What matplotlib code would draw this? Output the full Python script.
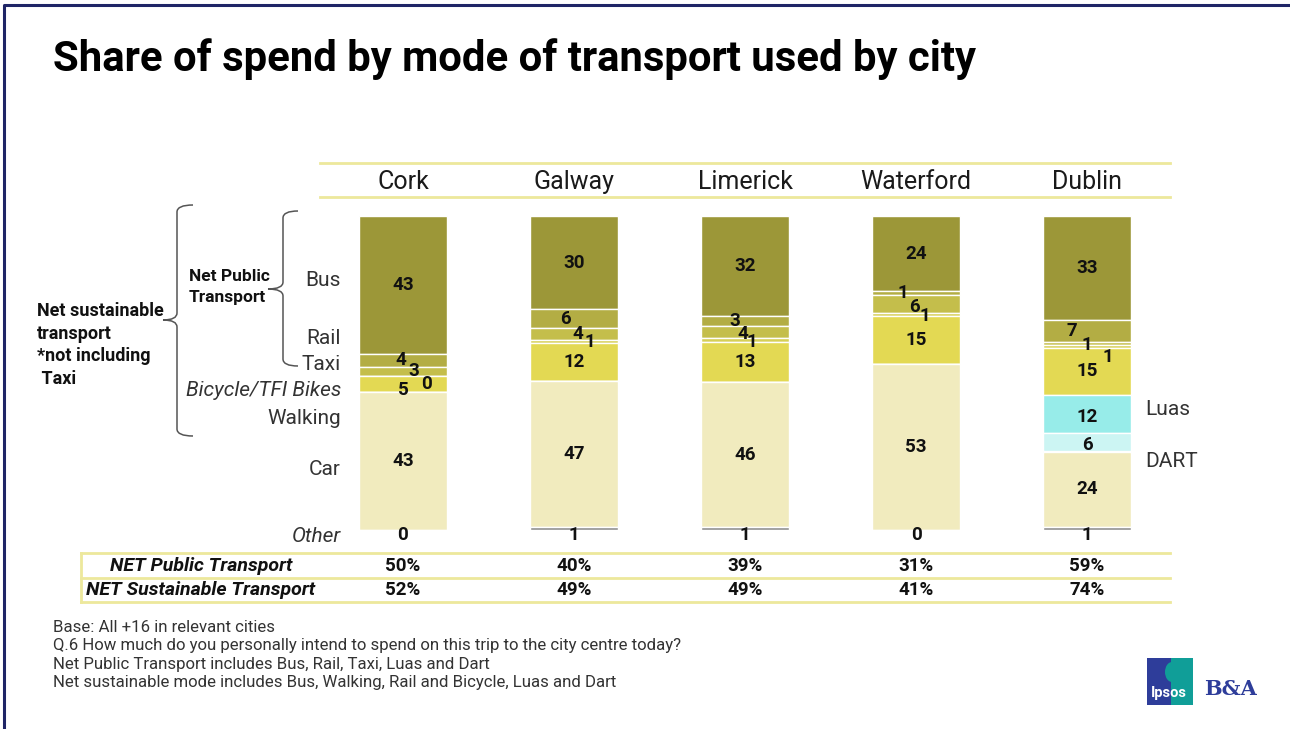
import matplotlib.pyplot as plt
import numpy as np
from matplotlib.path import Path
from matplotlib.patches import PathPatch, Rectangle, Ellipse
from matplotlib.transforms import blended_transform_factory

plt.rcParams['font.family'] = ['Roboto', 'DejaVu Sans']

# data (share of spend, %)
cities = ['Cork', 'Galway', 'Limerick', 'Waterford', 'Dublin']
bus = [43, 30, 32, 24, 33]
rail = [4, 6, 3, 1, 7]
taxi = [3, 4, 4, 6, 1]
bicycle = [0, 1, 1, 1, 1]
walking = [5, 12, 13, 15, 15]
luas = [0, 0, 0, 0, 12]
dart = [0, 0, 0, 0, 6]
car = [43, 47, 46, 53, 24]
other = [0, 1, 1, 0, 1]
net_public = ['50%', '40%', '39%', '31%', '59%']
net_sustainable = ['52%', '49%', '49%', '41%', '74%']

series = [bus, rail, taxi, bicycle, walking, luas, dart, car, other]
colors = ['#9c9738', '#b3ad44', '#c4be4b', '#d6cf55', '#e3d953',
          '#97ece9', '#ccf5f3', '#f1ebbe', '#8f8f8f']

# label nudges for the thin segments: (series index, city index) -> (dx, dy)
nudge = {(1, 0): (-0.01, 0), (2, 0): (0.06, 0), (3, 0): (0.14, 2.5), (4, 0): (0, 2),
         (1, 1): (-0.05, 0), (2, 1): (0.02, 0), (3, 1): (0.09, 0),
         (1, 2): (-0.06, 0), (2, 2): (-0.01, 0.5), (3, 2): (0.04, 0.5),
         (1, 3): (-0.08, 0), (2, 3): (-0.01, 1), (3, 3): (0.05, 0.5),
         (1, 4): (-0.09, 0), (2, 4): (0, 0.5), (3, 4): (0.12, 3.5),
         (5, 4): (0, 1), (6, 4): (0, 1)}

W, H = 1290, 729
fig = plt.figure(figsize=(W / 100, H / 100), dpi=100)

# overlay axes in pixel coordinates for the slide furniture
ov = fig.add_axes([0, 0, 1, 1])
ov.set_xlim(0, W)
ov.set_ylim(H, 0)
ov.axis('off')

# bar axes
ax = fig.add_axes([317.5 / W, 1 - 530 / H, 855 / W, 314 / H])
ax.set_xlim(-0.5, 4.5)
ax.set_ylim(100, 0)
ax.axis('off')

x = np.arange(len(cities))
data = np.array(series, dtype=float)
shares = data / data.sum(axis=0) * 100
bottom = np.zeros(len(cities))
for i, vals in enumerate(shares):
    ax.bar(x, vals, bottom=bottom, width=0.515, color=colors[i],
           edgecolor='white', linewidth=1.0)
    for j in range(len(cities)):
        raw = series[i][j]
        if i in (5, 6) and raw == 0:
            continue
        if i == 8:
            ax.text(x[j], 101.6, str(raw), ha='center', va='center',
                    fontsize=13.5, fontweight='bold', color='#111111', clip_on=False)
            continue
        dx, dy = nudge.get((i, j), (0, 0))
        ax.text(x[j] + dx, bottom[j] + vals[j] / 2 + dy, str(raw), ha='center',
                va='center', fontsize=13.5, fontweight='bold', color='#111111')
    bottom += vals

# title
ov.text(53, 59, 'Share of spend by mode of transport used by city', fontsize=30.2,
        fontweight='bold', color='#000000', va='center', ha='left')

# slide frame
ov.plot([4, 4, W], [H, 5, 5], color='#1f2566', lw=2.2, solid_capstyle='butt')

# header with city names
line_col = '#ede89c'
ov.plot([320, 1170], [163, 163], color=line_col, lw=2)
ov.plot([320, 1170], [197, 197], color=line_col, lw=2)
bx = blended_transform_factory(ax.transData, ov.transData)
for j, c in enumerate(cities):
    ov.text(x[j], 182, c, transform=bx, ha='center', va='center', fontsize=18,
            color='#1a1a1a')

# mode labels on the left
mode_labels = [('Bus', 280, 'normal'), ('Rail', 338, 'normal'), ('Taxi', 364, 'normal'),
               ('Bicycle/TFI Bikes', 390, 'italic'), ('Walking', 418, 'normal'),
               ('Car', 469, 'normal'), ('Other', 537, 'italic')]
for name, yy, st in mode_labels:
    ov.text(341, yy, name, ha='right', va='center', fontsize=15, style=st,
            color='#333333')
ov.text(1145, 409, 'Luas', ha='left', va='center', fontsize=15, color='#333333')
ov.text(1145, 461, 'DART', ha='left', va='center', fontsize=15, color='#333333')


def brace(xv, y0, y1, ytip, w, t, r=7):
    verts = [(xv + w, y0), (xv, y0), (xv, y0 + r),
             (xv, ytip - r), (xv, ytip), (xv - t, ytip),
             (xv, ytip), (xv, ytip + r),
             (xv, y1 - r), (xv, y1), (xv + w, y1)]
    codes = [Path.MOVETO, Path.CURVE3, Path.CURVE3,
             Path.LINETO, Path.CURVE3, Path.CURVE3,
             Path.CURVE3, Path.CURVE3,
             Path.LINETO, Path.CURVE3, Path.CURVE3]
    ov.add_patch(PathPatch(Path(verts, codes), fill=False, edgecolor='#555555', lw=1.1))


brace(177, 205, 436, 320, 16, 14)
brace(283, 211, 366, 289, 15, 15)

for k, s in enumerate(['Net sustainable', 'transport', '*not including', ' Taxi']):
    ov.text(37, 311 + k * 22.5, s, ha='left', va='center', fontsize=13,
            fontweight='bold', color='#111111')
ov.text(189, 276, 'Net Public', ha='left', va='center', fontsize=12.5,
        fontweight='bold', color='#111111')
ov.text(189, 297, 'Transport', ha='left', va='center', fontsize=12.5,
        fontweight='bold', color='#111111')

# summary table
for yy in (553, 578, 602):
    ov.plot([81, 1170], [yy, yy], color=line_col, lw=2)
ov.plot([81, 81], [553, 602], color=line_col, lw=2)
ov.text(201, 566, 'NET Public Transport', ha='center', va='center', fontsize=14,
        fontweight='bold', style='italic', color='#111111')
ov.text(201, 590, 'NET Sustainable Transport', ha='center', va='center', fontsize=14,
        fontweight='bold', style='italic', color='#111111')
for j in range(len(cities)):
    ov.text(x[j], 566, net_public[j], transform=bx, ha='center', va='center',
            fontsize=13.5, fontweight='bold', color='#111111')
    ov.text(x[j], 590, net_sustainable[j], transform=bx, ha='center', va='center',
            fontsize=13.5, fontweight='bold', color='#111111')

# footnotes
notes = ['Base: All +16 in relevant cities',
         'Q.6 How much do you personally intend to spend on this trip to the city centre today?',
         'Net Public Transport includes Bus, Rail, Taxi, Luas and Dart',
         'Net sustainable mode includes Bus, Walking, Rail and Bicycle, Luas and Dart']
for k, s in enumerate(notes):
    ov.text(53, 627 + k * 18.5, s, ha='left', va='center', fontsize=12.1,
            color='#333333')

# logo
ov.add_patch(Rectangle((1147, 658), 24, 47, color='#2e3d9a', lw=0))
ov.add_patch(Rectangle((1171, 658), 22, 47, color='#109e98', lw=0))
ov.add_patch(Ellipse((1172, 672), 14, 20, color='#109e98', lw=0))
ov.text(1169, 693, 'Ipsos', ha='center', va='center', fontsize=10.5,
        fontweight='bold', color='white')
ov.text(1204, 689, 'B&A', ha='left', va='center', fontsize=15, fontweight='bold',
        family='DejaVu Serif', color='#2e3d9a')

plt.savefig('out.png', dpi=100)
